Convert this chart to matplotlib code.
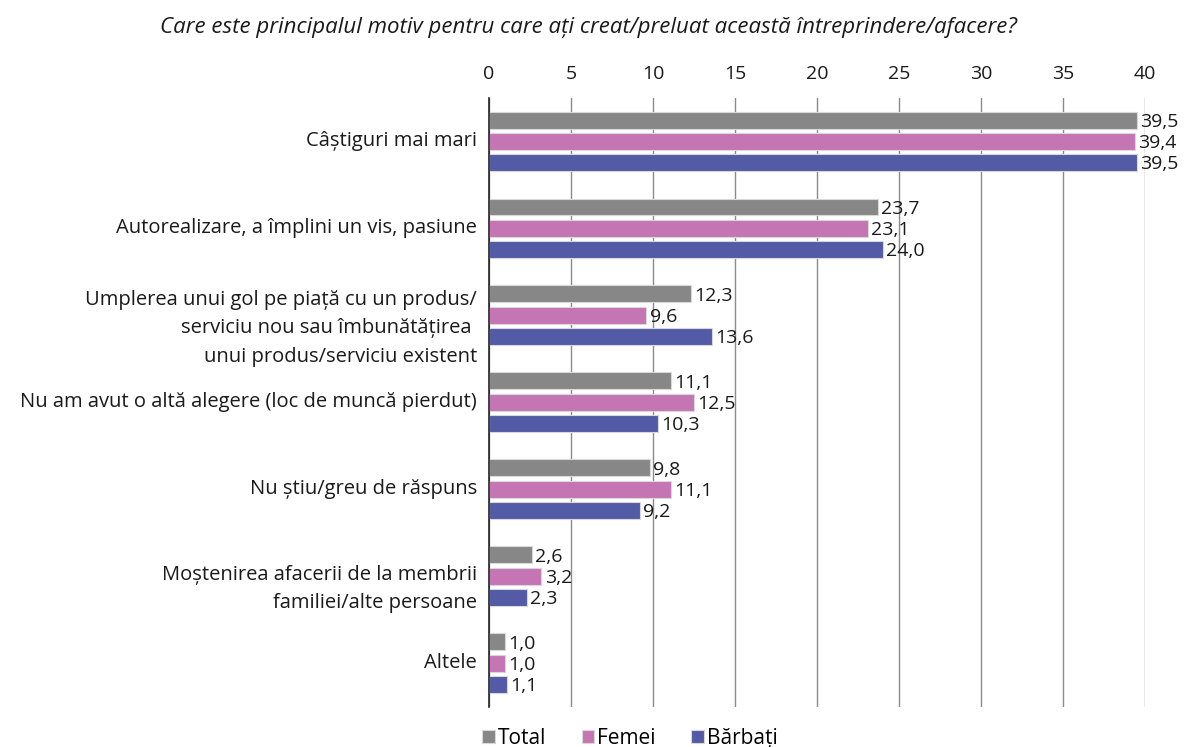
import numpy as np
import matplotlib
matplotlib.use('Agg')
import matplotlib.pyplot as plt
from matplotlib.transforms import blended_transform_factory, ScaledTranslation

plt.rcParams['font.family'] = ['Open Sans', 'DejaVu Sans']

categories = [
    'Câștiguri mai mari',
    'Autorealizare, a împlini un vis, pasiune',
    'Umplerea unui gol pe piață cu un produs/\nserviciu nou sau îmbunătățirea \nunui produs/serviciu existent',
    'Nu am avut o altă alegere (loc de muncă pierdut)',
    'Nu știu/greu de răspuns',
    'Moștenirea afacerii de la membrii\nfamiliei/alte persoane',
    'Altele',
]
total = [39.5, 23.7, 12.3, 11.1, 9.8, 2.6, 1.0]
femei = [39.4, 23.1, 9.6, 12.5, 11.1, 3.2, 1.0]
barbati = [39.5, 24.0, 13.6, 10.3, 9.2, 2.3, 1.1]
series = [('Total', total, '#878787'), ('Femei', femei, '#C575B3'), ('Bărbați', barbati, '#535AA6')]
ticks = [0, 5, 10, 15, 20, 25, 30, 35, 40]

fig = plt.figure(figsize=(11.84, 7.47), dpi=100)
ax = fig.add_axes([0.413, 0.054, 0.554, 0.815])

y = np.arange(len(categories))
h = 0.195
offs = [-0.245, 0, 0.245]
for (name, vals, col), off in zip(series, offs):
    ax.barh(y + off, vals, height=h, color=col, edgecolor='#d8d8d8', linewidth=0.8,
            label=name, zorder=3)
    for yi, v in zip(y, vals):
        ax.text(v + 0.2, yi + off + 0.02, f'{v:.1f}'.replace('.', ','), va='center', ha='left',
                fontsize=14, color='#1a1a1a', zorder=4)

ax.set_ylim(len(categories) - 0.5, -0.5)
ax.set_xlim(0, 40)
ax.set_yticks(y)
ax.set_yticklabels([])
# category labels (multi-line ones sit a bit lower, like the original)
tr = blended_transform_factory(ax.transAxes, ax.transData)
for yi, lab in zip(y, categories):
    shift = -0.13 if '\n' in lab else 0
    ax.text(-0.018, yi, lab, ha='right', va='center', fontsize=14.5, color='#1a1a1a',
            linespacing=1.55, transform=tr + ScaledTranslation(0, shift, fig.dpi_scale_trans))
ax.set_xticks(ticks)
ax.xaxis.tick_top()
ax.tick_params(axis='x', length=0, pad=11, labelsize=14, labelcolor='#1a1a1a')
ax.tick_params(axis='y', length=0)
ax.grid(axis='x', color='#8a8a8a', linewidth=1, zorder=0)
for s in ['top', 'right', 'bottom']:
    ax.spines[s].set_visible(False)
ax.spines['left'].set_color('#222222')
ax.spines['left'].set_linewidth(1.2)
ax.spines['left'].set_zorder(5)

fig.text(0.497, 0.963, 'Care este principalul motiv pentru care ați creat/preluat această întreprindere/afacere?',
         ha='center', va='center', fontsize=16, style='italic', color='#1a1a1a')

fig.legend(loc='center', bbox_to_anchor=(0.532, 0.012), ncol=3, frameon=False,
           fontsize=15, handlelength=0.6, handleheight=0.6, handletextpad=0.15, columnspacing=1.7)

fig.savefig('out.png', dpi=100)
